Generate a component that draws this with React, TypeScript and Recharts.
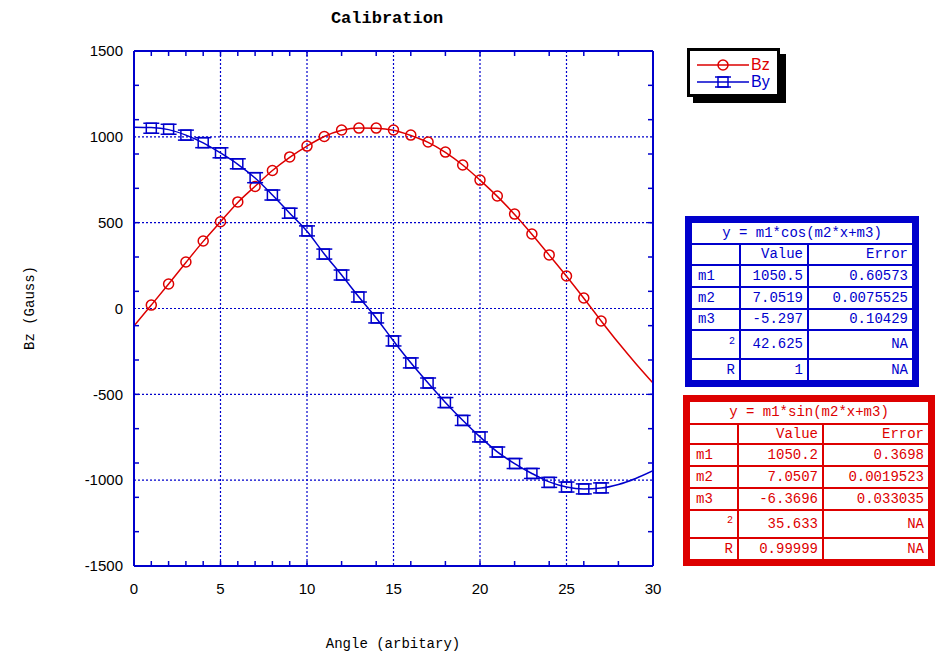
import { ComposedChart, Line, XAxis, YAxis, CartesianGrid } from 'recharts';

const BLUE = '#0000cc';
const RED = '#dd0000';

// angle samples (fit curves are read at every integer, markers at 1..27)
const ANGLE = [0, 1, 2, 3, 4, 5, 6, 7, 8, 9, 10, 11, 12, 13, 14, 15, 16, 17, 18, 19, 20, 21, 22, 23, 24, 25, 26, 27, 28, 29, 30];
const BZ_MEASURED = [null, 20, 143, 271, 393, 505, 621, 711, 804, 883, 946, 1002, 1040, 1051, 1051, 1040, 1010, 970, 911, 836, 748, 655, 550, 434, 312, 189, 61, -73, null, null, null];
const BZ_FIT = [-102, 20, 143, 268, 391, 505, 618, 712, 804, 881, 946, 1002, 1038, 1052, 1050, 1038, 1008, 968, 910, 836, 748, 653, 548, 433, 311, 188, 60, -72, -200, -320, -434];
const BY_MEASURED = [null, 1050, 1044, 1010, 966, 907, 843, 762, 661, 555, 452, 317, 195, 67, -55, -189, -317, -434, -548, -652, -748, -836, -903, -961, -1013, -1040, -1051, -1045, null, null, null];
const BY_FIT = [1056, 1054, 1042, 1010, 965, 906, 840, 760, 661, 555, 450, 318, 195, 67, -55, -189, -316, -434, -547, -651, -748, -835, -903, -961, -1010, -1040, -1051, -1046, -1025, -990, -945];

const X_TICKS = [0, 5, 10, 15, 20, 25, 30];
const Y_TICKS = [-1500, -1000, -500, 0, 500, 1000, 1500];
const X_MINOR = [0, 1, 2, 3, 4, 5, 6, 7, 8, 9, 10, 11, 12, 13, 14, 15, 16, 17, 18, 19, 20, 21, 22, 23, 24, 25, 26, 27, 28, 29, 30];
const Y_MINOR = [-1500, -1400, -1300, -1200, -1100, -1000, -900, -800, -700, -600, -500, -400, -300, -200, -100, 0,
    100, 200, 300, 400, 500, 600, 700, 800, 900, 1000, 1100, 1200, 1300, 1400, 1500];

const COS_FIT = {
    title: 'y = m1*cos(m2*x+m3)',
    rows: [['m1', '1050.5', '0.60573'], ['m2', '7.0519', '0.0075525'], ['m3', '-5.297', '0.10429'], ['²', '42.625', 'NA'], ['R', '1', 'NA']],
};
const SIN_FIT = {
    title: 'y = m1*sin(m2*x+m3)',
    rows: [['m1', '1050.2', '0.3698'], ['m2', '7.0507', '0.0019523'], ['m3', '-6.3696', '0.033035'], ['²', '35.633', 'NA'], ['R', '0.99999', 'NA']],
};

const data = ANGLE.map((x, i) => ({
    x,
    bz: BZ_MEASURED[i],
    bzFit: BZ_FIT[i],
    by: BY_MEASURED[i],
    byFit: BY_FIT[i],
}));

const MONO = '"Liberation Mono", "DejaVu Sans Mono", monospace';
const noLabel = () => <g />;

function CircleDot(props: any) {
    const { cx, cy, value } = props;
    if (value == null || cx == null || cy == null) return null;
    return <circle cx={cx} cy={cy} r={5} fill="none" stroke={RED} strokeWidth={1.5} />;
}

function SquareDot(props: any) {
    const { cx, cy, value } = props;
    if (value == null || cx == null || cy == null) return null;
    const h = 5;
    return (
        <g stroke={BLUE} strokeWidth={1.5} fill="none">
            <rect x={cx - h} y={cy - h} width={h * 2} height={h * 2} />
            <line x1={cx - h - 3} y1={cy - h} x2={cx + h + 3} y2={cy - h} />
            <line x1={cx - h - 3} y1={cy + h} x2={cx + h + 3} y2={cy + h} />
        </g>
    );
}

function FitTable({ fit, color, left, top, width, cols, rowHeights }: any) {
    const pad = 7;
    return (
        <div style={{
            position: 'absolute', left, top, width, background: color, padding: pad, boxSizing: 'border-box',
            display: 'grid', gridTemplateColumns: cols, gridAutoRows: 'auto', gap: 2,
            fontFamily: MONO, fontSize: 14, color,
        }}>
            <div style={{ gridColumn: '1 / 4', background: '#fff', textAlign: 'center', height: rowHeights[0], lineHeight: `${rowHeights[0]}px` }}>{fit.title}</div>
            {['', 'Value', 'Error'].map((h, i) => (
                <div key={'h' + i} style={{ background: '#fff', textAlign: 'right', paddingRight: 4, height: rowHeights[1], lineHeight: `${rowHeights[1]}px` }}>{h}</div>
            ))}
            {fit.rows.map((r: string[], ri: number) => r.map((c, ci) => {
                const hgt = rowHeights[ri + 2];
                const isSup = c === '²';
                return (
                    <div key={ri + '-' + ci} style={{
                        background: '#fff', height: hgt, lineHeight: `${hgt}px`,
                        textAlign: ci === 0 && ri < 3 ? 'left' : 'right',
                        paddingLeft: ci === 0 ? 6 : 0, paddingRight: 4,
                        fontSize: isSup ? 10 : 14,
                    }}>{isSup ? <span style={{ position: 'relative', top: -3 }}>2</span> : c}</div>
                );
            }))}
        </div>
    );
}

const LEGEND = [
    { name: 'Bz', color: RED, marker: 'circle' },
    { name: 'By', color: BLUE, marker: 'square' },
];

export default function App() {
    return (
        <div style={{ position: 'absolute', left: 0, top: 0, width: 935, height: 656, background: '#fff' }}>
            <div style={{ position: 'absolute', left: 287, width: 200, top: 9, textAlign: 'center', fontFamily: MONO, fontWeight: 'bold', fontSize: 17 }}>
                Calibration
            </div>

            <ComposedChart width={935} height={656} data={data} margin={{ top: 51, right: 282, bottom: 60, left: 74 }}>
                <CartesianGrid stroke={BLUE} strokeDasharray="2 2" strokeWidth={1.2} />

                {/* inward minor ticks + frame */}
                <XAxis xAxisId="minorB" type="number" domain={[0, 30]} allowDataOverflow ticks={X_MINOR} orientation="bottom"
                    mirror height={1} tick={noLabel} axisLine={false} tickSize={5} tickLine={{ stroke: BLUE, strokeWidth: 1.5 }} />
                <XAxis xAxisId="minorT" type="number" domain={[0, 30]} allowDataOverflow ticks={X_MINOR} orientation="top"
                    mirror height={1} tick={noLabel} axisLine={{ stroke: BLUE, strokeWidth: 2 }} tickSize={5} tickLine={{ stroke: BLUE, strokeWidth: 1.5 }} />
                <YAxis yAxisId="minorL" type="number" domain={[-1500, 1500]} allowDataOverflow ticks={Y_MINOR} orientation="left"
                    mirror width={1} tick={noLabel} axisLine={false} tickSize={5} tickLine={{ stroke: BLUE, strokeWidth: 1.5 }} />
                <YAxis yAxisId="minorR" type="number" domain={[-1500, 1500]} allowDataOverflow ticks={Y_MINOR} orientation="right"
                    mirror width={1} tick={noLabel} axisLine={{ stroke: BLUE, strokeWidth: 2 }} tickSize={5} tickLine={{ stroke: BLUE, strokeWidth: 1.5 }} />

                <XAxis dataKey="x" type="number" domain={[0, 30]} allowDataOverflow ticks={X_TICKS} height={30}
                    tickLine={false} axisLine={{ stroke: BLUE, strokeWidth: 2 }} tickSize={6} tickMargin={11}
                    tick={{ fill: '#000', fontSize: 15, fontFamily: '"Liberation Sans", Arial' }} />
                <YAxis type="number" domain={[-1500, 1500]} allowDataOverflow ticks={Y_TICKS} width={60}
                    tickLine={false} axisLine={{ stroke: BLUE, strokeWidth: 2 }} tickSize={6} tickMargin={5}
                    tick={{ fill: '#000', fontSize: 15, fontFamily: '"Liberation Sans", Arial' }} />

                <Line dataKey="bzFit" type="monotone" stroke={RED} strokeWidth={1.5} dot={false} activeDot={false} isAnimationActive={false} />
                <Line dataKey="byFit" type="monotone" stroke={BLUE} strokeWidth={1.5} dot={false} activeDot={false} isAnimationActive={false} />
                <Line dataKey="bz" stroke="none" dot={<CircleDot />} activeDot={false} isAnimationActive={false} />
                <Line dataKey="by" stroke="none" dot={<SquareDot />} activeDot={false} isAnimationActive={false} />
            </ComposedChart>

            <div style={{
                position: 'absolute', left: 12, top: 308, transform: 'translate(-50%, -50%) rotate(-90deg)', transformOrigin: 'center',
                marginLeft: 18, whiteSpace: 'nowrap', fontFamily: MONO, fontSize: 14,
            }}>Bz (Gauss)</div>
            <div style={{ position: 'absolute', left: 293, width: 200, top: 636, textAlign: 'center', fontFamily: MONO, fontSize: 14 }}>
                Angle (arbitary)
            </div>

            {/* legend */}
            <div style={{
                position: 'absolute', left: 687, top: 48, width: 93, height: 49, boxSizing: 'border-box',
                border: '3px solid #000', background: '#fff', boxShadow: '6px 6px 0 #000',
            }}>
                {LEGEND.map((l, i) => (
                    <div key={l.name} style={{ position: 'absolute', left: 7, top: 6 + i * 17, height: 16, display: 'flex', alignItems: 'center' }}>
                        <svg width={54} height={16}>
                            <line x1={0} y1={8} x2={52} y2={8} stroke={l.color} strokeWidth={1.5} />
                            {l.marker === 'circle'
                                ? <circle cx={26} cy={8} r={5} fill="none" stroke={l.color} strokeWidth={1.5} />
                                : <g stroke={l.color} strokeWidth={1.5} fill="none">
                                    <rect x={21} y={3} width={10} height={10} />
                                    <line x1={18} y1={3} x2={34} y2={3} />
                                    <line x1={18} y1={13} x2={34} y2={13} />
                                </g>}
                        </svg>
                        <span style={{ color: l.color, fontFamily: '"Liberation Sans", Arial', fontSize: 16, lineHeight: '16px' }}>{l.name}</span>
                    </div>
                ))}
            </div>

            <FitTable fit={COS_FIT} color={BLUE} left={685} top={216} width={234} cols="47px 66px 1fr"
                rowHeights={[20, 19, 20, 20, 19, 27, 20]} />
            <FitTable fit={SIN_FIT} color={RED} left={683} top={395} width={252} cols="47px 83px 1fr"
                rowHeights={[21, 18, 20, 20, 20, 26, 20]} />
        </div>
    );
}
